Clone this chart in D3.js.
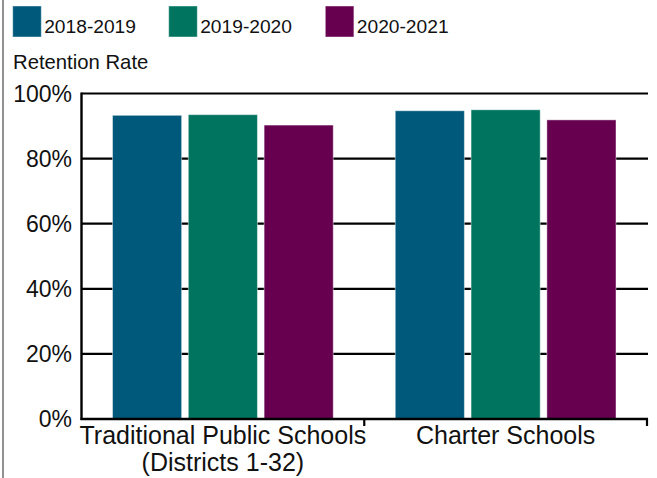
<!DOCTYPE html>
<html>
<head>
<meta charset="utf-8">
<script src="https://cdn.jsdelivr.net/npm/d3@7"></script>
<style>
  html, body { margin: 0; padding: 0; background: #fff; }
  svg { display: block; font-family: "Liberation Sans", Arial, sans-serif; }
</style>
</head>
<body>
<svg id="chart" width="657" height="478"></svg>
<script>
// Retention rates by school type and school year
const categories = ["Traditional Public Schools|(Districts 1-32)", "Charter Schools"];
const seriesNames = ["2018-2019", "2019-2020", "2020-2021"];
const traditional = [93.3, 93.5, 90.3];
const charter = [94.7, 95.0, 91.9];
const seriesColors = ["#00587a", "#00745e", "#66004f"];
const yTicks = [0, 20, 40, 60, 80, 100];

const rows = [traditional, charter].map((vals, i) => ({
  category: categories[i],
  values: vals.map((v, j) => ({ series: seriesNames[j], value: v }))
}));

const svg = d3.select("#chart");
const W = 657, H = 478;
const margin = { top: 93.5, right: 10, bottom: 59, left: 81.5 };
const plotW = 647 - margin.left;
const plotH = 419 - margin.top;

// outer frame line on the left
svg.append("line")
  .attr("x1", 3).attr("x2", 3).attr("y1", 0).attr("y2", H)
  .attr("stroke", "#555").attr("stroke-width", 1.3);

const g = svg.append("g").attr("transform", `translate(${margin.left},${margin.top})`);

const x0 = d3.scaleBand().domain(categories).range([0, plotW]).paddingInner(0).paddingOuter(0);
const x1 = d3.scaleBand().domain(seriesNames).range([31, x0.bandwidth() - 31]).paddingInner(0.088);
const y = d3.scaleLinear().domain([0, 100]).range([plotH, 0]);
const color = d3.scaleOrdinal().domain(seriesNames).range(seriesColors);

// horizontal gridlines
g.append("g")
  .selectAll("line")
  .data(yTicks.filter(t => t > 0))
  .join("line")
  .attr("x1", 0).attr("x2", plotW + 1)
  .attr("y1", d => y(d)).attr("y2", d => y(d))
  .attr("stroke", "#000").attr("stroke-width", 2.2);

// y tick labels
g.append("g")
  .selectAll("text")
  .data(yTicks)
  .join("text")
  .attr("x", -9.5)
  .attr("y", d => y(d))
  .attr("dy", "0.36em")
  .attr("text-anchor", "end")
  .attr("font-size", 23)
  .attr("fill", "#111")
  .text(d => d + "%");

// bars
const groups = g.append("g")
  .selectAll("g")
  .data(rows)
  .join("g")
  .attr("transform", d => `translate(${x0(d.category)},0)`);

groups.selectAll("rect")
  .data(d => d.values)
  .join("rect")
  .attr("x", d => x1(d.series))
  .attr("width", x1.bandwidth())
  .attr("y", d => y(d.value))
  .attr("height", d => plotH - y(d.value))
  .attr("fill", d => color(d.series))
  .attr("stroke", "rgba(255,255,255,0.45)")
  .attr("stroke-width", 1);

// y axis line
g.append("line")
  .attr("x1", 0).attr("x2", 0).attr("y1", -1).attr("y2", plotH + 1)
  .attr("stroke", "#000").attr("stroke-width", 2.4);

// x axis baseline
const xAxis = d3.axisBottom(x0).tickSize(0).tickFormat("");
const xg = g.append("g").attr("transform", `translate(0,${plotH})`).call(xAxis);
xg.select(".domain").remove();
g.append("line")
  .attr("x1", -1).attr("x2", plotW + 1).attr("y1", plotH).attr("y2", plotH)
  .attr("stroke", "#000").attr("stroke-width", 2.4);

// category boundary ticks
const boundaries = categories.map(c => x0(c) + x0.bandwidth());
g.append("g")
  .selectAll("line")
  .data(boundaries)
  .join("line")
  .attr("x1", d => d).attr("x2", d => d)
  .attr("y1", plotH).attr("y2", plotH + 7)
  .attr("stroke", "#000").attr("stroke-width", 2.2);

// category labels
g.append("g")
  .selectAll("text")
  .data(categories)
  .join("text")
  .attr("x", d => x0(d) + x0.bandwidth() / 2)
  .attr("y", plotH + 25)
  .attr("text-anchor", "middle")
  .attr("font-size", 25)
  .attr("fill", "#111")
  .each(function(d) {
    const lines = d.split("|");
    d3.select(this).selectAll("tspan")
      .data(lines)
      .join("tspan")
      .attr("x", x0(d) + x0.bandwidth() / 2)
      .attr("dy", (l, i) => i === 0 ? 0 : 27)
      .text(l => l);
  });

// y axis title
svg.append("text")
  .attr("x", 13).attr("y", 69)
  .attr("font-size", 20.3)
  .attr("fill", "#111")
  .text("Retention Rate");

// legend
const legendX = [12.7, 168.7, 325.3];
const legend = svg.append("g")
  .selectAll("g")
  .data(seriesNames)
  .join("g")
  .attr("transform", (d, i) => `translate(${legendX[i]},6)`);
legend.append("rect")
  .attr("width", 28.6).attr("height", 31)
  .attr("fill", d => color(d))
  .attr("stroke", "rgba(255,255,255,0.45)")
  .attr("stroke-width", 1);
legend.append("text")
  .attr("x", 31.5).attr("y", 26.5)
  .attr("font-size", 19.2)
  .attr("fill", "#111")
  .text(d => d);
</script>
</body>
</html>
